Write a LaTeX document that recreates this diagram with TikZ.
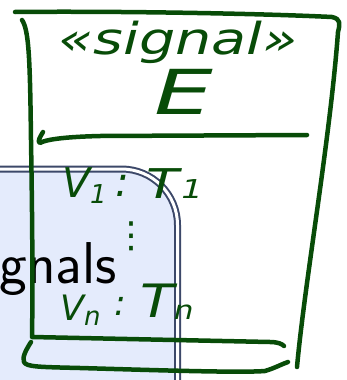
\documentclass[tikz,border=0pt]{standalone}
\usepackage{fontspec}
\newfontfamily\handfont{DejaVu Sans}
\definecolor{ink}{RGB}{8,76,8}
\definecolor{blockfill}{RGB}{228,235,252}
\definecolor{blockline}{RGB}{60,72,105}
\newcommand\hsub[2]{\raisebox{-#2}{\fontsize{26}{28}\selectfont #1}}
\tikzset{
  inkline/.style={draw=ink, line width=4.5pt, line cap=round, line join=round},
  hand/.style={text=ink, inner sep=0pt},
  blockshape/.style={rounded corners=56pt},
}
\begin{document}
\begin{tikzpicture}[x=1pt,y=-1pt]
\useasboundingbox (0,0) rectangle (347,380);
\clip (0,0) rectangle (347,380);
% beamer block
\fill[blockfill, blockshape] (-100,169) rectangle (177.5,520);
\draw[blockline, line width=2pt, double=white, double distance=3pt, blockshape] (-100,169) rectangle (177.5,520);
\node[anchor=base east, inner sep=0pt, font=\sffamily\fontsize{59}{64}\selectfont] (title) at (117,283) {Signals};
% ink frame
\draw[inkline] (15,12) .. controls (100,11) and (250,13) .. (332,17) .. controls (341,19) and (340,24) .. (338,32) .. controls (330,140) and (305,280) .. (297,367);
\draw[inkline] (22,20) .. controls (29,30) and (30,60) .. (31,140) .. controls (32,200) and (33,280) .. (32,337) -- (270,342) .. controls (278,342) and (282,344) .. (284,346);
\draw[inkline] (31,342) .. controls (26,350) and (22,357) .. (24,362) .. controls (26,367) and (40,367) .. (80,368) .. controls (150,370) and (240,373) .. (265,371) .. controls (275,368) and (282,364) .. (288,362);
\draw[inkline] (43,132) .. controls (40,137) and (37,142) .. (40,143) .. controls (45,140) and (60,137) .. (100,136) -- (307,135);
% ink text
\node[hand, xscale=1.3, font=\handfont\itshape\fontsize{44}{48}\selectfont] (stereo) at (178,42) {«signal»};
\node[hand, xscale=1.5, font=\handfont\itshape\fontsize{62}{66}\selectfont] (ename) at (184,92) {E};
\node[hand, anchor=base west, font=\handfont\itshape\fontsize{41}{44}\selectfont] (v1) at (62,197) {V\hsub{1}{6pt}};
\node[hand, font=\handfont\itshape\fontsize{41}{44}\selectfont] (c1) at (122,186) {:};
\node[hand, anchor=base west, xscale=1.3, font=\handfont\itshape\fontsize{41}{44}\selectfont] (t1) at (146,198) {T\kern2pt\hsub{1}{0pt}};
\node[hand, font=\handfont\fontsize{36}{40}\selectfont] (dots) at (131,236) {⋮};
\node[hand, anchor=base west, font=\handfont\itshape\fontsize{35}{38}\selectfont] (vn) at (60,320) {V\hsub{n}{5pt}};
\node[hand, font=\handfont\itshape\fontsize{35}{38}\selectfont] (cn) at (120,306) {:};
\node[hand, anchor=base west, xscale=1.2, font=\handfont\itshape\fontsize{46}{50}\selectfont] (tn) at (140,317) {T\hsub{n}{2pt}};
\end{tikzpicture}
\end{document}
